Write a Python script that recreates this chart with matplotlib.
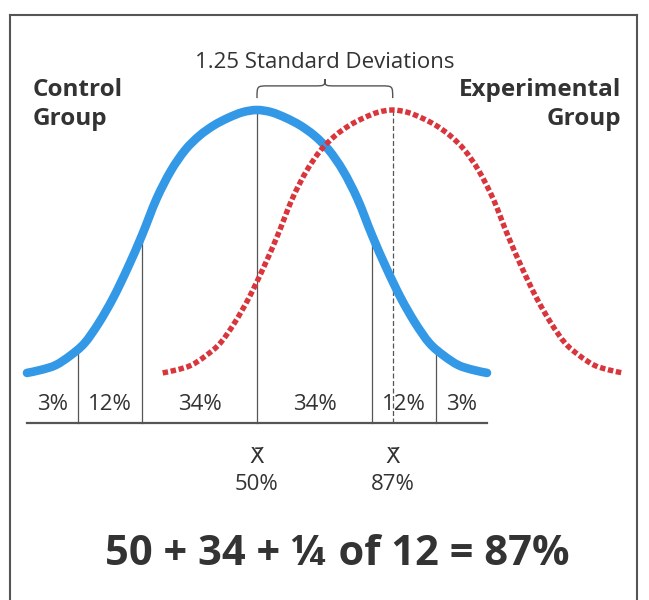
import numpy as np
import matplotlib.pyplot as plt
from matplotlib.path import Path
from matplotlib.patches import PathPatch
from matplotlib.lines import Line2D

plt.rcParams['font.family'] = ['Open Sans', 'DejaVu Sans']

# bell curve: distance from the group mean (in SD)
# and curve height (peak = 1, baseline = 0)
curve_offsets = [-2.0, -1.875, -1.75, -1.625, -1.5, -1.375, -1.25, -1.125, -1.0,
                 -0.875, -0.75, -0.625, -0.5, -0.375, -0.25, -0.125, 0.0,
                 0.125, 0.25, 0.375, 0.5, 0.625, 0.75, 0.875, 1.0,
                 1.125, 1.25, 1.375, 1.5, 1.625, 1.75, 1.875, 2.0]
curve_heights = [0.16, 0.17, 0.185, 0.215, 0.255, 0.32, 0.40, 0.495, 0.60,
                 0.715, 0.805, 0.872, 0.918, 0.951, 0.975, 0.993, 1.0,
                 0.993, 0.975, 0.951, 0.918, 0.872, 0.805, 0.715, 0.60,
                 0.495, 0.40, 0.32, 0.255, 0.215, 0.185, 0.17, 0.16]

control_mean = 0.0
experimental_mean = 1.18
cut_points = [-1.56, -1.0, 0.0, 1.0, 1.56]
band_labels = ['3%', '12%', '34%', '34%', '12%', '3%']
mean_labels = ['50%', '87%']
shift_label = '1.25 Standard Deviations'
equation = '50 + 34 + \u00bc of 12 = 87%'

BLUE = '#3399e6'
RED = '#d8353c'
INK = '#333333'
GRAY = '#555555'


def smooth_path(xs, ys):
    # smooth line through the read points (Catmull-Rom as cubic Bezier)
    p = np.column_stack([xs, ys])
    pad = np.vstack([p[0], p, p[-1]])
    verts, codes = [tuple(p[0])], [Path.MOVETO]
    for i in range(len(p) - 1):
        p0, p1, p2, p3 = pad[i], pad[i + 1], pad[i + 2], pad[i + 3]
        verts += [tuple(p1 + (p2 - p0) / 6), tuple(p2 - (p3 - p1) / 6), tuple(p2)]
        codes += [Path.CURVE4] * 3
    return Path(verts, codes)


fig = plt.figure(figsize=(6.49, 6.0), dpi=100)
ax = fig.add_axes([0, 0, 1, 1])
# 1 SD ~ 115 px, control mean at x=257 px, baseline at y=423 px, peak 313 px tall
ax.set_xlim(-257 / 115, (649 - 257) / 115)
ax.set_ylim(-177 / 313, 423 / 313)
ax.axis('off')

# frame (open at the bottom)
for xs, ys in [([10, 10], [600, 15]), ([10, 637], [15, 15]), ([637, 637], [15, 600])]:
    fig.add_artist(Line2D([x / 649 for x in xs], [1 - y / 600 for y in ys],
                          color=GRAY, lw=1.5))

cx = np.array(curve_offsets) + control_mean
ex = np.array(curve_offsets) + experimental_mean
h = np.array(curve_heights)

# baseline and cut lines
ax.plot([cx[0], cx[-1]], [0, 0], color=GRAY, lw=1.6, zorder=1)
for c in cut_points:
    ax.plot([c, c], [0, np.interp(c, cx, h)], color=GRAY, lw=0.9, zorder=1)
ax.plot([experimental_mean] * 2, [0, h.max()], color=GRAY, lw=0.9,
        ls=(0, (4, 2)), zorder=1)

# curves
ax.add_patch(PathPatch(smooth_path(cx, h), fill=False, edgecolor=BLUE, lw=6.2,
                       capstyle='round', joinstyle='round', zorder=3))
ax.add_patch(PathPatch(smooth_path(ex, h), fill=False, edgecolor=RED, lw=3.9,
                       linestyle=(0, (1.0, 0.5)), capstyle='butt', zorder=4))

# band percentages
edges = [cx[0]] + cut_points + [cx[-1]]
for lab, a, b in zip(band_labels, edges[:-1], edges[1:]):
    ax.text((a + b) / 2, 0.042, lab, ha='center', va='baseline',
            fontsize=16, color=INK)

# means
for m, lab in zip([control_mean, experimental_mean], mean_labels):
    ax.text(m, -0.128, 'X\u0304', ha='center', va='baseline', fontsize=15.5,
            color=INK, family=['DejaVu Sans'])
    ax.text(m, -0.214, lab, ha='center', va='baseline', fontsize=16, color=INK)

# brace over the shift
x0, x1 = control_mean, experimental_mean
xm = (x0 + x1) / 2
r = 0.1
y_end, y_bar, y_tip = 1.038, 1.077, 1.099
verts = [(x0, y_end), (x0, y_bar), (x0, y_bar), (x0 + r, y_bar),
         (xm - r, y_bar), (xm, y_bar), (xm, y_bar), (xm, y_tip),
         (xm, y_bar), (xm, y_bar), (xm + r, y_bar),
         (x1 - r, y_bar), (x1, y_bar), (x1, y_bar), (x1, y_end)]
codes = [Path.MOVETO, Path.CURVE4, Path.CURVE4, Path.CURVE4,
         Path.LINETO, Path.CURVE4, Path.CURVE4, Path.CURVE4,
         Path.CURVE4, Path.CURVE4, Path.CURVE4,
         Path.LINETO, Path.CURVE4, Path.CURVE4, Path.CURVE4]
ax.add_patch(PathPatch(Path(verts, codes), fill=False, edgecolor=GRAY, lw=1.0))
ax.text(xm, 1.134, shift_label, ha='center', va='baseline', fontsize=16, color=INK)

# group labels
for txt, y in [('Control', 1.045), ('Group', 0.952)]:
    ax.text(-1.95, y, txt, ha='left', va='baseline', fontsize=17.5,
            fontweight='bold', color=INK)
for txt, y in [('Experimental', 1.045), ('Group', 0.952)]:
    ax.text(3.17, y, txt, ha='right', va='baseline', fontsize=17.5,
            fontweight='bold', color=INK)

ax.text(0.7, -0.454, equation, ha='center', va='baseline', fontsize=30,
        fontweight='bold', color=INK)

fig.savefig('out.png', dpi=100)
